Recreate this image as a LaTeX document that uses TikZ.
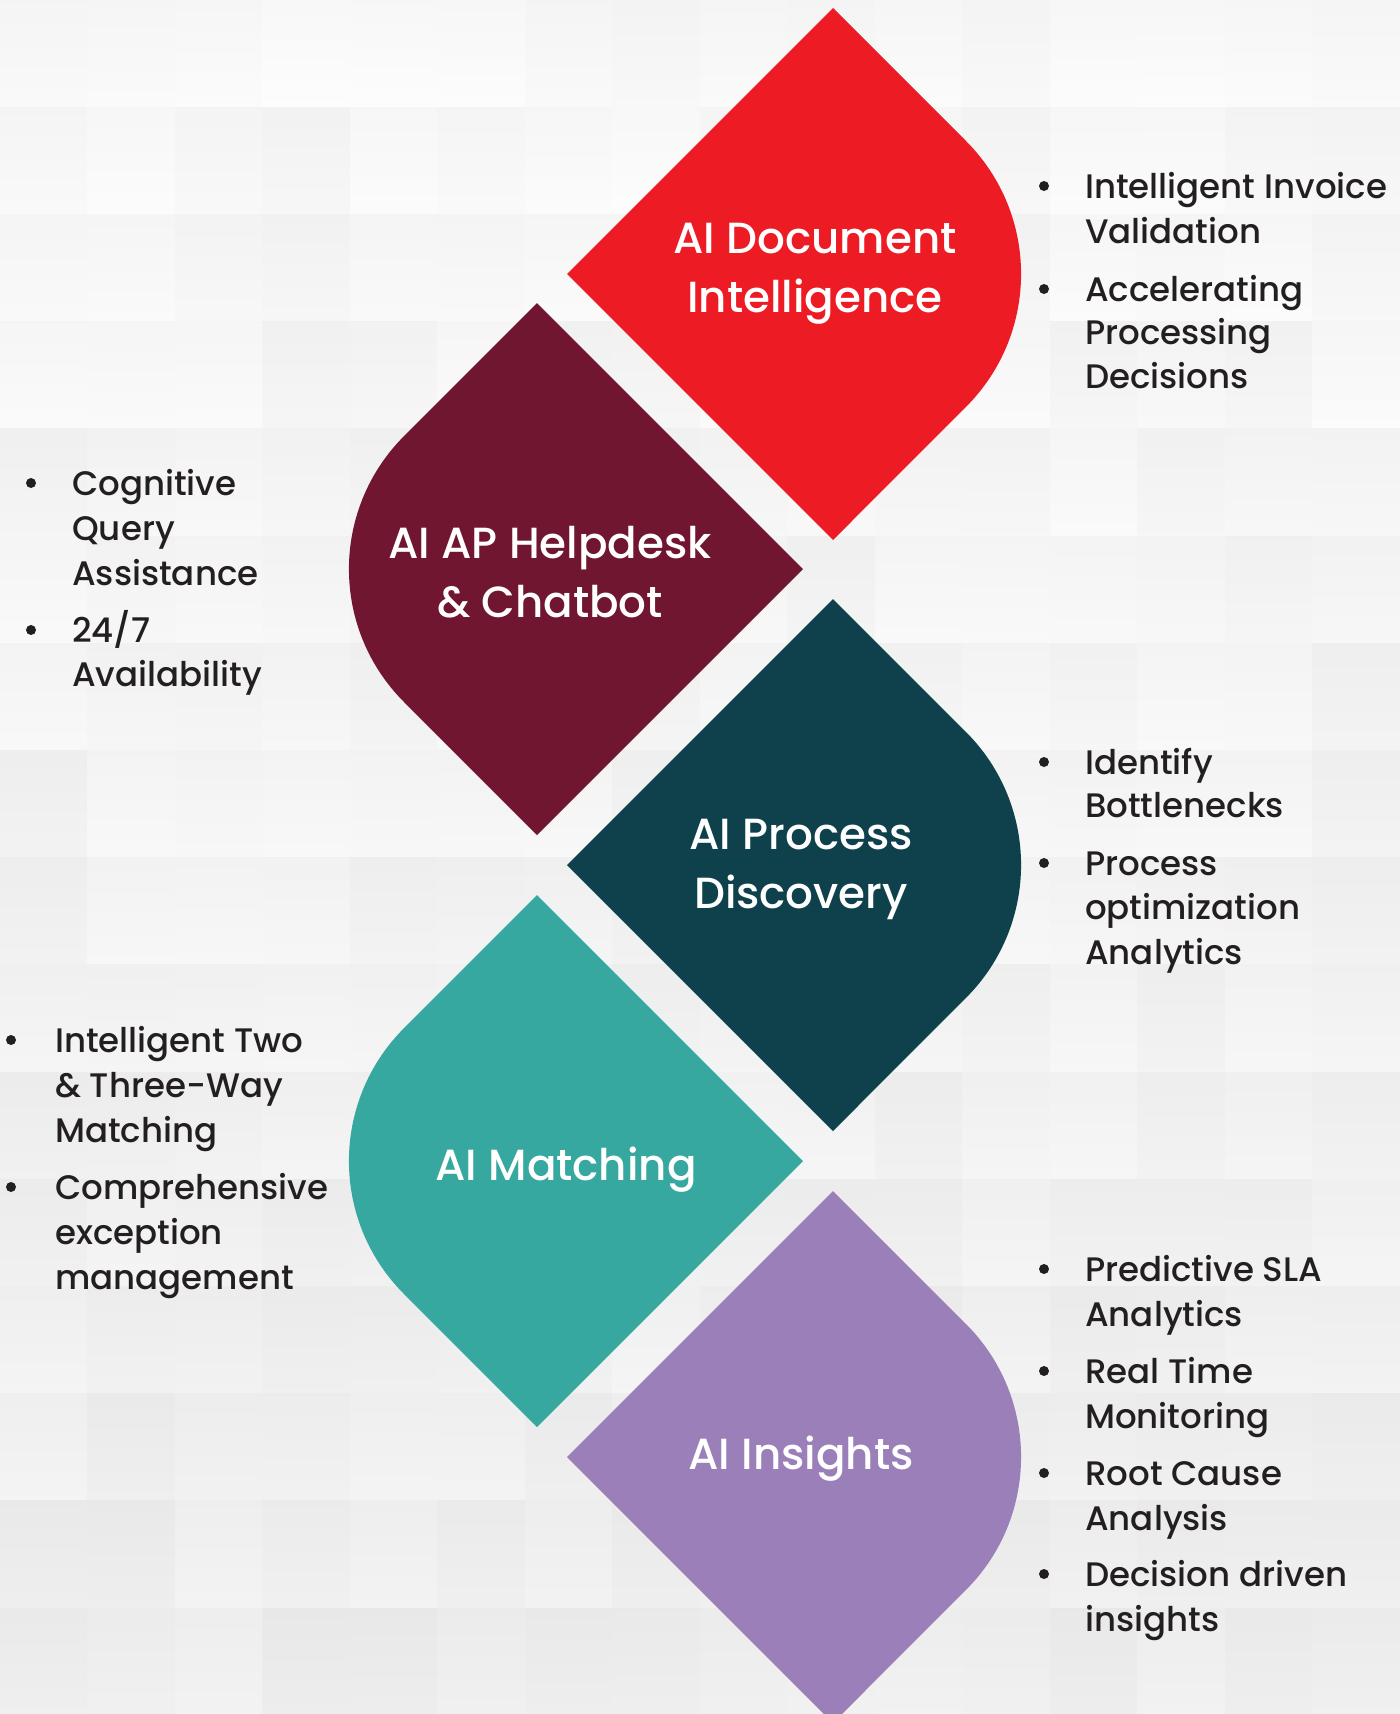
\documentclass[tikz,border=0pt]{standalone}
\usepackage{fontspec}
\setmainfont{Poppins}[UprightFont=* Medium]
\usetikzlibrary{calc}
\definecolor{cred}{HTML}{ED1C24}
\definecolor{cmaroon}{HTML}{701630}
\definecolor{cdteal}{HTML}{0E414B}
\definecolor{cteal}{HTML}{37A8A0}
\definecolor{cpurple}{HTML}{9B7FB9}
\definecolor{ctext}{HTML}{231F20}
\newcommand\rightleaf[2]{%
  \fill[#1] ($(#2)+(0,-266)$) -- ($(#2)+(133,-133)$)
    arc[start angle=-45,end angle=45,radius=188]
    -- ($(#2)+(0,266)$) -- ($(#2)+(-266,0)$) -- cycle;}
\newcommand\leftleaf[2]{%
  \fill[#1] ($(#2)+(0,-266)$) -- ($(#2)+(266,0)$) -- ($(#2)+(0,266)$)
    -- ($(#2)+(-133,133)$)
    arc[start angle=135,end angle=225,radius=188] -- cycle;}
\begin{document}
\begin{tikzpicture}[x=1pt,y=-1pt,
  titletext/.style={text=white, font=\fontsize{43.6}{59}\selectfont, align=center, inner sep=0pt},
  itemtext/.style={text=ctext, font=\fontsize{34}{45}\selectfont, anchor=mid west, inner sep=0pt},
  dot/.style={circle, fill=ctext, inner sep=0pt, minimum size=10pt}]
\useasboundingbox (0,0) rectangle (1400,1714);
\clip (0,0) rectangle (1400,1714);
\fill[white!96!black] (0,0) rectangle (1400,1714);
% background tiles
\pgfmathsetseed{12}
\foreach \i in {0,...,15} {
  \foreach \j in {0,...,15} {
    \pgfmathsetmacro\sh{97+2.3*rnd-0.27*\j}
    \pgfmathsetmacro\sht{\sh-2}
    \shade[top color=white!\sht!black, bottom color=white!\sh!black]
      (\i*87.5,\j*107.2) rectangle ++(87.5,107.2);
  }
}
% shapes
\coordinate (c1) at (833,274);
\coordinate (c2) at (537,569);
\coordinate (c3) at (833,865);
\coordinate (c4) at (537,1161);
\coordinate (c5) at (833,1457);
\rightleaf{cred}{c1}
\leftleaf{cmaroon}{c2}
\rightleaf{cdteal}{c3}
\leftleaf{cteal}{c4}
\rightleaf{cpurple}{c5}
% titles
\node[titletext] (t1) at (815,274) {AI Document\\Intelligence};
\node[titletext] (t2) at (550,572) {AI AP Helpdesk\\\& Chatbot};
\node[titletext] (t3) at (801,869) {AI Process\\Discovery};
\node[titletext] (t4) at (566,1170) {AI Matching};
\node[titletext] (t5) at (801,1459) {AI Insights};
% right column 1
\node[dot] (d1) at (1044,186) {};
\node[itemtext] (l1) at (1085,196) {Intelligent Invoice};
\node[itemtext] (l2) at (1085,241) {Validation};
\node[dot] (d2) at (1044,289) {};
\node[itemtext] (l3) at (1085,299) {Accelerating};
\node[itemtext] (l4) at (1085,342) {Processing};
\node[itemtext] (l5) at (1085,386) {Decisions};
% left column 1
\node[dot] (d3) at (31,483) {};
\node[itemtext] (l6) at (72,493) {Cognitive};
\node[itemtext] (l7) at (72,538) {Query};
\node[itemtext] (l8) at (72,583) {Assistance};
\node[dot] (d4) at (31,630) {};
\node[itemtext] (l9) at (72,640) {24/7};
\node[itemtext] (l10) at (72,684) {Availability};
% right column 2
\node[dot] (d5) at (1044,762) {};
\node[itemtext] (l11) at (1085,772) {Identify};
\node[itemtext] (l12) at (1085,815) {Bottlenecks};
\node[dot] (d6) at (1044,863) {};
\node[itemtext] (l13) at (1085,873) {Process};
\node[itemtext] (l14) at (1085,917) {optimization};
\node[itemtext] (l15) at (1085,962) {Analytics};
% left column 2
\node[dot] (d7) at (11,1040) {};
\node[itemtext] (l16) at (55,1050) {Intelligent Two};
\node[itemtext] (l17) at (55,1095) {\& Three-Way};
\node[itemtext] (l18) at (55,1140) {Matching};
\node[dot] (d8) at (11,1187) {};
\node[itemtext] (l19) at (55,1197) {Comprehensive};
\node[itemtext] (l20) at (55,1242) {exception};
\node[itemtext] (l21) at (55,1287) {management};
% right column 3
\node[dot] (d9) at (1044,1269) {};
\node[itemtext] (l22) at (1085,1279) {Predictive SLA};
\node[itemtext] (l23) at (1085,1324) {Analytics};
\node[dot] (d10) at (1044,1371) {};
\node[itemtext] (l24) at (1085,1381) {Real Time};
\node[itemtext] (l25) at (1085,1426) {Monitoring};
\node[dot] (d11) at (1044,1473) {};
\node[itemtext] (l26) at (1085,1483) {Root Cause};
\node[itemtext] (l27) at (1085,1528) {Analysis};
\node[dot] (d12) at (1044,1574) {};
\node[itemtext] (l28) at (1085,1584) {Decision driven};
\node[itemtext] (l29) at (1085,1629) {insights};
\end{tikzpicture}
\end{document}
